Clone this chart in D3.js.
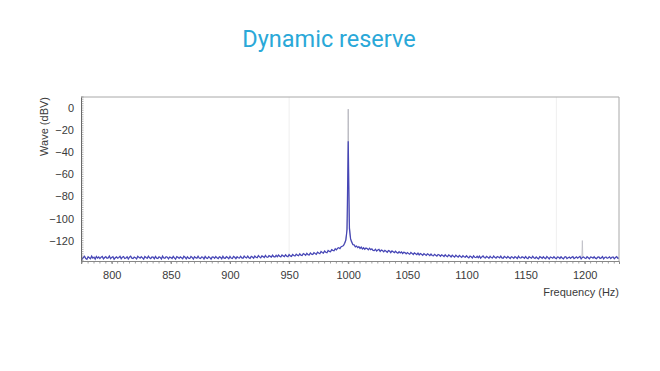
<!DOCTYPE html>
<html><head><meta charset="utf-8">
<script src="https://cdn.jsdelivr.net/npm/d3@7"></script>
<style>
body{margin:0;background:#fff;}
text{font-family:"Liberation Sans",Arial,sans-serif;}
</style></head>
<body><svg id="chart" width="660" height="371"></svg>
<script>
const titleText = "Dynamic reserve";
const xLabel = "Frequency (Hz)";
const yLabel = "Wave (dBV)";
const xTicks = [800, 850, 900, 950, 1000, 1050, 1100, 1150, 1200];
const yTicks = [0, -20, -40, -60, -80, -100, -120];
const xDomain = [774, 1229];
const yDomain = [-138.5, 10];

// noise trace: one value per Hz starting at noiseStartHz
const noiseStartHz = 774;
const noiseStepHz = 1;
const noiseValues = [
-134.8,-136.7,-135.3,-134.2,-136.2,-136.9,
-134.7,-135.5,-136.5,-134.1,-135.9,-135.1,-136.8,-134.4,-135.8,-134.9,
-136.3,-135.0,-134.3,-136.6,-135.4,-134.6,-136.1,-135.7,-134.0,-136.4,
-135.2,-134.5,-136.9,-135.6,-134.8,-136.0,-135.3,-134.2,-136.5,-135.0,
-134.4,-136.2,-135.8,-134.7,-136.7,-135.1,-134.1,-135.9,-136.3,-134.9,
-135.5,-136.6,-134.3,-135.2,-136.0,-134.6,-135.7,-136.8,-134.5,-135.4,
-136.1,-134.2,-135.6,-136.4,-134.8,-135.0,-136.5,-134.4,-135.9,-136.2,
-134.7,-135.3,-136.7,-134.1,-135.8,-136.0,-134.6,-135.1,-136.6,-134.9,
-135.4,-136.3,-134.3,-135.7,-136.9,-134.5,-135.2,-136.1,-134.8,-135.6,
-136.4,-134.2,-135.0,-136.5,-134.7,-135.9,-136.2,-134.4,-135.3,-136.7,
-134.6,-135.5,-136.0,-134.1,-135.8,-136.3,-134.9,-135.1,-136.6,-134.3,
-135.7,-136.2,-134.5,-135.4,-136.8,-134.8,-135.0,-136.1,-134.4,-135.6,
-136.3,-134.7,-135.2,-136.5,-134.2,-135.9,-136.0,-134.6,-135.3,-136.4,
-134.4,-135.8,-136.2,-134.3,-135.1,-136.4,-134.7,-135.6,-135.9,-134.2,
-135.7,-136.0,-134.1,-135.2,-135.8,-134.0,-135.5,-136.1,-134.3,-134.9,
-135.9,-134.0,-135.1,-135.6,-133.6,-134.8,-135.7,-133.9,-134.5,-135.4,
-133.5,-134.9,-135.2,-133.6,-134.3,-135.0,-133.2,-134.6,-134.9,-133.4,
-134.7,-133.1,-134.2,-134.8,-133.0,-133.9,-134.5,-132.8,-134.1,-134.6,
-132.7,-133.9,-134.3,-132.5,-133.5,-134.0,-132.3,-133.2,-133.7,-131.9,
-133.2,-133.6,-131.8,-132.4,-133.3,-131.5,-132.7,-133.0,-131.2,-132.3,
-132.6,-130.9,-131.7,-132.4,-130.5,-131.3,-131.9,-129.9,-130.8,-131.4,
-129.5,-130.6,-131.0,-128.9,-129.8,-130.1,-128.2,-128.9,-129.3,-127.4,
-128.4,-127.0,-126.5,-127.3,-125.6,-125.1,-124.6,-122.4,-119.5,-110.0,
-30.0,-109.0,-118.5,-121.4,-123.8,-123.9,-125.6,-124.9,-126.4,-125.5,
-127.1,-125.9,-127.6,-126.5,-127.9,-126.8,-127.2,-128.4,-126.9,-128.3,
-127.5,-128.9,-129.1,-127.8,-129.4,-128.5,-128.0,-129.9,-128.6,-129.0,
-130.2,-128.8,-129.7,-130.6,-129.1,-129.5,-130.9,-129.4,-130.1,-131.0,
-129.7,-130.8,-131.4,-130.0,-131.2,-130.3,-131.7,-130.6,-130.9,-132.0,
-130.9,-131.8,-132.4,-130.8,-131.6,-132.6,-131.2,-131.9,-132.8,-131.3,
-133.0,-131.7,-132.5,-133.3,-131.9,-132.7,-133.4,-132.0,-132.6,-133.6,
-132.2,-133.5,-133.8,-132.4,-133.2,-134.0,-132.6,-133.1,-134.2,-132.9,
-133.6,-134.5,-132.8,-133.9,-134.6,-133.0,-133.7,-134.8,-133.2,-134.1,
-134.9,-133.3,-134.2,-135.0,-133.5,-134.4,-135.2,-133.7,-134.6,-135.1,
-133.8,-134.9,-135.6,-134.0,-134.7,-135.8,-133.9,-135.1,-135.4,-134.2,
-135.5,-134.1,-135.9,-134.8,-133.9,-135.3,-135.7,-134.3,-135.0,-136.0,
-134.2,-135.4,-135.8,-134.0,-135.2,-136.0,-134.5,-134.9,-135.6,-134.1,
-135.7,-136.1,-134.3,-135.0,-135.9,-134.4,-135.3,-136.2,-134.6,-135.1,
-136.0,-134.5,-135.4,-136.3,-134.2,-135.6,-135.8,-134.7,-135.2,-136.1,
-134.4,-135.7,-136.4,-134.6,-135.3,-136.0,-134.3,-135.5,-136.2,-134.8,
-135.9,-136.5,-134.5,-135.2,-136.1,-134.7,-135.8,-136.3,-134.4,-135.4,
-136.6,-134.9,-135.3,-136.0,-134.6,-135.7,-136.4,-134.8,-135.1,-136.2,
-134.7,-135.8,-136.5,-135.0,-134.6,-136.3,-135.5,-134.9,-136.1,-135.2,
-134.5,-136.4,-135.6,-134.8,-136.0,-135.1,-134.4,-136.6,-135.3,-134.9,
-135.8,-136.2,-134.6,-135.5,-136.5,-134.8,-135.2,-136.0,-134.7,-135.9,
-136.4,-135.0,-134.9,-136.2,-135.7,-134.5,-136.6,-135.3,-134.8,-136.1,
-135.6,-134.7,-136.3,-135.1,-134.9,-136.5,-135.4,-134.6,-136.0,-135.8,
-134.8,-136.2,-135.5
];

// carrier peak (thin grey trace)
const peakFreq = [996, 997.5, 998.5, 999.2, 999.7, 1000, 1000.3, 1000.8, 1001.5, 1002.5, 1004];
const peakValues = [-124, -121, -115, -100, -70, -1, -70, -100, -115, -121, -124];

// small spur near 1200 Hz
const spurFreq = [1197.6, 1198, 1198.4];
const spurValues = [-135, -120, -135];

// faint vertical grid lines visible in the plot
const gridFreq = [950, 1176];

const svg = d3.select("#chart");
const plot = {left: 81, top: 97, right: 619, bottom: 261};

const x = d3.scaleLinear().domain(xDomain).range([plot.left, plot.right]);
const y = d3.scaleLinear().domain(yDomain).range([plot.bottom, plot.top]);

svg.append("text").attr("x", 329).attr("y", 47).attr("text-anchor", "middle")
  .style("font-family", "Roboto, 'Noto Sans', sans-serif").style("font-size", "23.5px")
  .attr("fill", "#2aa8d8").text(titleText);

svg.append("defs").append("clipPath").attr("id", "clip")
  .append("rect").attr("x", plot.left).attr("y", plot.top)
  .attr("width", plot.right - plot.left).attr("height", plot.bottom - plot.top);

// faint grid
svg.append("g").selectAll("line").data(gridFreq).join("line")
  .attr("x1", d => x(d)).attr("x2", d => x(d))
  .attr("y1", plot.top).attr("y2", plot.bottom)
  .attr("stroke", "#efefef").attr("stroke-width", 1);

const noise = noiseValues.map((v, i) => [noiseStartHz + i * noiseStepHz, v]);
const line = d3.line().x(d => x(d[0])).y(d => y(d[1]));

const g = svg.append("g").attr("clip-path", "url(#clip)");
g.append("path").datum(peakFreq.map((f, i) => [f, peakValues[i]]))
  .attr("d", line).attr("fill", "none").attr("stroke", "#b4b4bc").attr("stroke-width", 0.9);
g.append("path").datum(spurFreq.map((f, i) => [f, spurValues[i]]))
  .attr("d", line).attr("fill", "none").attr("stroke", "#bcbcc4").attr("stroke-width", 0.8);
g.append("path").datum(noise)
  .attr("d", line).attr("fill", "none").attr("stroke", "#4646b6").attr("stroke-width", 1.25);

// frame
svg.append("path")
  .attr("d", `M${plot.left},${plot.top}H${plot.right}V${plot.bottom}`)
  .attr("fill", "none").attr("stroke", "#a8a8a8").attr("stroke-width", 1);

// x axis
const xAxis = svg.append("g").attr("transform", `translate(0,${plot.bottom})`)
  .call(d3.axisBottom(x).tickValues(xTicks).tickSize(3).tickPadding(7).tickFormat(d3.format("d")));
xAxis.select(".domain").attr("stroke", "#888");
xAxis.selectAll(".tick line").attr("stroke", "#888");
xAxis.selectAll("text").attr("fill", "#3a3a3a").style("font-size", "11px");
const xMinor = d3.range(775, 1229, 5);
svg.append("g").selectAll("line").data(xMinor).join("line")
  .attr("x1", d => x(d)).attr("x2", d => x(d))
  .attr("y1", plot.bottom).attr("y2", plot.bottom + 2.5)
  .attr("stroke", "#888").attr("stroke-width", 0.8);

// y axis
const yAxis = svg.append("g").attr("transform", `translate(${plot.left},0)`)
  .call(d3.axisLeft(y).tickValues(yTicks).tickSize(0).tickPadding(7));
yAxis.select(".domain").attr("stroke", "#666");
yAxis.selectAll("text").attr("fill", "#3a3a3a").style("font-size", "11px");
const yMinor = d3.range(-138, 10.1, 2);
svg.append("g").selectAll("line").data(yMinor).join("line")
  .attr("x1", plot.left).attr("x2", plot.left + 2.5)
  .attr("y1", d => y(d)).attr("y2", d => y(d))
  .attr("stroke", "#777").attr("stroke-width", 0.6);

svg.append("text").attr("transform", `translate(48,${plot.top}) rotate(-90)`)
  .attr("text-anchor", "end").attr("fill", "#3a3a3a").style("font-size", "11px").text(yLabel);
svg.append("text").attr("x", plot.right).attr("y", 296).attr("text-anchor", "end")
  .attr("fill", "#3a3a3a").style("font-size", "11px").text(xLabel);
</script></body></html>
